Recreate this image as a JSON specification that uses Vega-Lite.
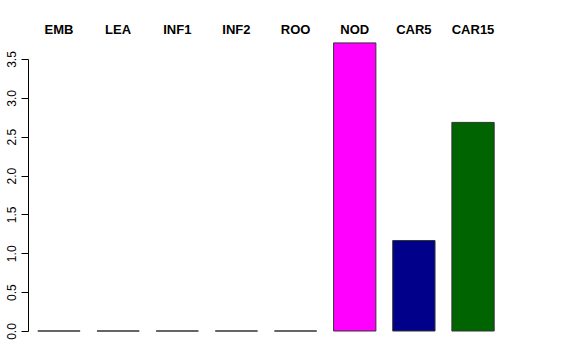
{
  "$schema": "https://vega.github.io/schema/vega-lite/v6.json",
  "autosize": {"type": "none"},
  "width": 476,
  "height": 272,
  "padding": {"left": 28, "top": 59, "right": 72, "bottom": 29},
  "background": "white",
  "config": {
    "view": {"stroke": null},
    "font": "Liberation Sans",
    "axis": {"grid": false, "title": null, "domainColor": "black", "tickColor": "black", "labelColor": "black"}
  },
  "data": {
    "values": [
      {"tissue": "EMB", "value": 0, "color": "#BEBEBE"},
      {"tissue": "LEA", "value": 0, "color": "#BEBEBE"},
      {"tissue": "INF1", "value": 0, "color": "#00A000"},
      {"tissue": "INF2", "value": 0, "color": "#BEBEBE"},
      {"tissue": "ROO", "value": 0, "color": "#BEBEBE"},
      {"tissue": "NOD", "value": 3.707, "color": "#FF00FF"},
      {"tissue": "CAR5", "value": 1.164, "color": "#00008B"},
      {"tissue": "CAR15", "value": 2.684, "color": "#006400"}
    ]
  },
  "mark": {"type": "bar", "stroke": "#333333", "strokeWidth": 1, "clip": false},
  "encoding": {
    "x": {
      "field": "tissue",
      "type": "nominal",
      "sort": null,
      "scale": {"paddingInner": 0.285, "paddingOuter": 0.166},
      "axis": {
        "orient": "top",
        "domain": false,
        "ticks": false,
        "labelAngle": 0,
        "labelFont": "Liberation Sans",
        "labelFontWeight": "bold",
        "labelFontSize": 13,
        "labelBaseline": "alphabetic",
        "labelPadding": 26,
        "labelDx": -8
      }
    },
    "y": {
      "field": "value",
      "type": "quantitative",
      "scale": {"domain": [0, 3.5], "nice": false, "zero": true},
      "axis": {
        "values": [0, 0.5, 1, 1.5, 2, 2.5, 3, 3.5],
        "format": ".1f",
        "tickSize": 7,
        "labelAngle": 270,
        "labelAlign": "center",
        "labelBaseline": "alphabetic",
        "labelPadding": 6,
        "labelFontSize": 12,
        "labelFont": "Liberation Sans",
        "labelFlush": false,
        "labelOverlap": false
      }
    },
    "fill": {"field": "color", "type": "nominal", "scale": null}
  }
}
